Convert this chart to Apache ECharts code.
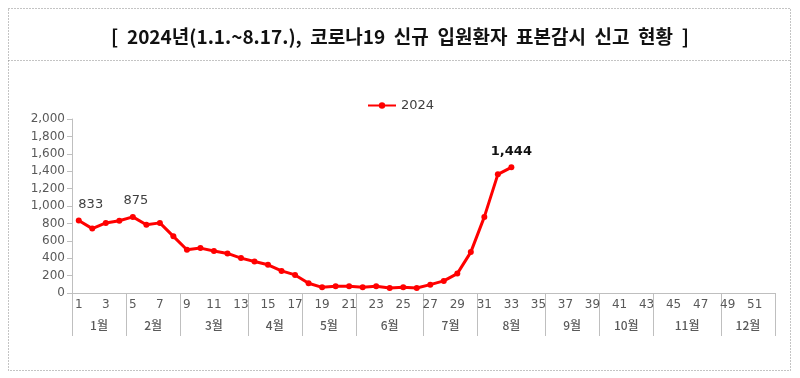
<!DOCTYPE html>
<html>
<head>
<meta charset="utf-8">
<script src="https://cdn.jsdelivr.net/npm/echarts@6/dist/echarts.min.js"></script>
<style>
  html, body { margin: 0; padding: 0; background: #fff; }
  #chart { width: 800px; height: 378px; }
</style>
</head>
<body>
<div id="chart"></div>
<script>
// 주차 (x축 눈금)
const weekLabels = [
  '1','2','3','4','5','6','7','8','9','10','11','12','13','14','15','16','17','18','19','20',
  '21','22','23','24','25','26','27','28','29','30','31','32','33','34','35','36','37','38','39','40',
  '41','42','43','44','45','46','47','48','49','50','51','52'
]
// 월 구분 및 각 월의 주 수
const monthNames = ['1월','2월','3월','4월','5월','6월','7월','8월','9월','10월','11월','12월']
const monthWeeks = [4, 4, 5, 4, 4, 5, 4, 5, 4, 4, 5, 4]
// 2024년 주별 신규 입원환자 수
const series2024 = [
  833, 740, 805, 830, 875, 785, 806, 651, 497, 516, 482, 455, 401, 362, 324, 254, 208,
  112, 65, 77, 77, 65, 77, 58, 65, 58, 96, 139, 223, 470, 875, 1364, 1444
]
// 값 표시할 주 (index) : 라벨 offset
const labelled = { 0: [12, 4], 4: [3, 3], 32: [0, 2] }

const chart = echarts.init(document.getElementById('chart'))

// 월 경계 / 월 중앙
const bounds = [0]
monthWeeks.forEach(n => bounds.push(bounds[bounds.length - 1] + n))
const centers = monthNames.map((m, i) => (bounds[i] + bounds[i + 1]) / 2)

const axisGray = '#bfbfbf'
const textGray = '#595959'

const option = {
  animation: false,
  title: {
    text: '[  2024년(1.1.~8.17.),  코로나19  신규  입원환자  표본감시  신고  현황  ]',
    left: 'center',
    top: 22,
    textStyle: {
      fontFamily: 'Noto Sans CJK KR',
      fontSize: 19,
      fontWeight: 'bold',
      color: '#111'
    }
  },
  graphic: [
    {
      type: 'rect',
      shape: { x: 8.5, y: 8.5, width: 782, height: 362 },
      style: { fill: 'none', stroke: '#888', lineWidth: 1, lineDash: [1, 2] }
    },
    {
      type: 'line',
      shape: { x1: 8.5, y1: 60.5, x2: 790.5, y2: 60.5 },
      style: { stroke: '#888', lineWidth: 1, lineDash: [1, 2] }
    }
  ],
  legend: {
    data: ['2024'],
    left: 362,
    top: 94,
    itemWidth: 28,
    itemHeight: 8,
    itemGap: 3,
    textStyle: { fontFamily: 'DejaVu Sans', fontSize: 13, color: '#404040' }
  },
  grid: { left: 72, right: 25, top: 119, bottom: 85 },
  xAxis: [
    {
      type: 'category',
      data: weekLabels,
      boundaryGap: true,
      axisLine: { lineStyle: { color: axisGray } },
      axisTick: { interval: 0, length: 20, lineStyle: { color: axisGray } },
      axisLabel: {
        interval: 1,
        margin: 6,
        fontFamily: 'DejaVu Sans',
        fontSize: 12,
        color: textGray
      }
    },
    {
      type: 'value',
      position: 'bottom',
      min: 0,
      max: 52,
      axisLine: { show: false },
      splitLine: { show: false },
      axisTick: {
        show: true,
        length: 43,
        customValues: bounds,
        lineStyle: { color: axisGray }
      },
      axisLabel: {
        customValues: centers,
        margin: 26,
        fontFamily: 'Noto Sans CJK KR',
        fontSize: 12,
        fontWeight: 500,
        color: textGray,
        formatter: v => monthNames[centers.indexOf(v)]
      }
    }
  ],
  yAxis: {
    type: 'value',
    min: 0,
    max: 2000,
    interval: 200,
    splitLine: { show: false },
    axisLine: { show: true, lineStyle: { color: axisGray } },
    axisTick: { show: true, length: 5, lineStyle: { color: axisGray } },
    axisLabel: {
      margin: 7,
      fontFamily: 'DejaVu Sans',
      fontSize: 12,
      color: textGray,
      formatter: v => v.toLocaleString('en-US')
    }
  },
  series: [
    {
      name: '2024',
      type: 'line',
      xAxisIndex: 0,
      data: series2024.map((v, i) => {
        if (!(i in labelled)) return v
        const bold = i === 32
        return {
          value: v,
          label: {
            show: true,
            position: 'top',
            distance: bold ? 8 : 10,
            offset: labelled[i],
            fontFamily: 'DejaVu Sans',
            fontSize: 13,
            fontWeight: bold ? 'bold' : 'normal',
            color: bold ? '#111' : '#404040',
            formatter: p => p.value.toLocaleString('en-US')
          }
        }
      }),
      color: '#ff0000',
      symbol: 'circle',
      symbolSize: 6,
      lineStyle: { width: 3, color: '#ff0000' },
      itemStyle: { color: '#ff0000' }
    }
  ]
}

chart.setOption(option)
</script>
</body>
</html>
